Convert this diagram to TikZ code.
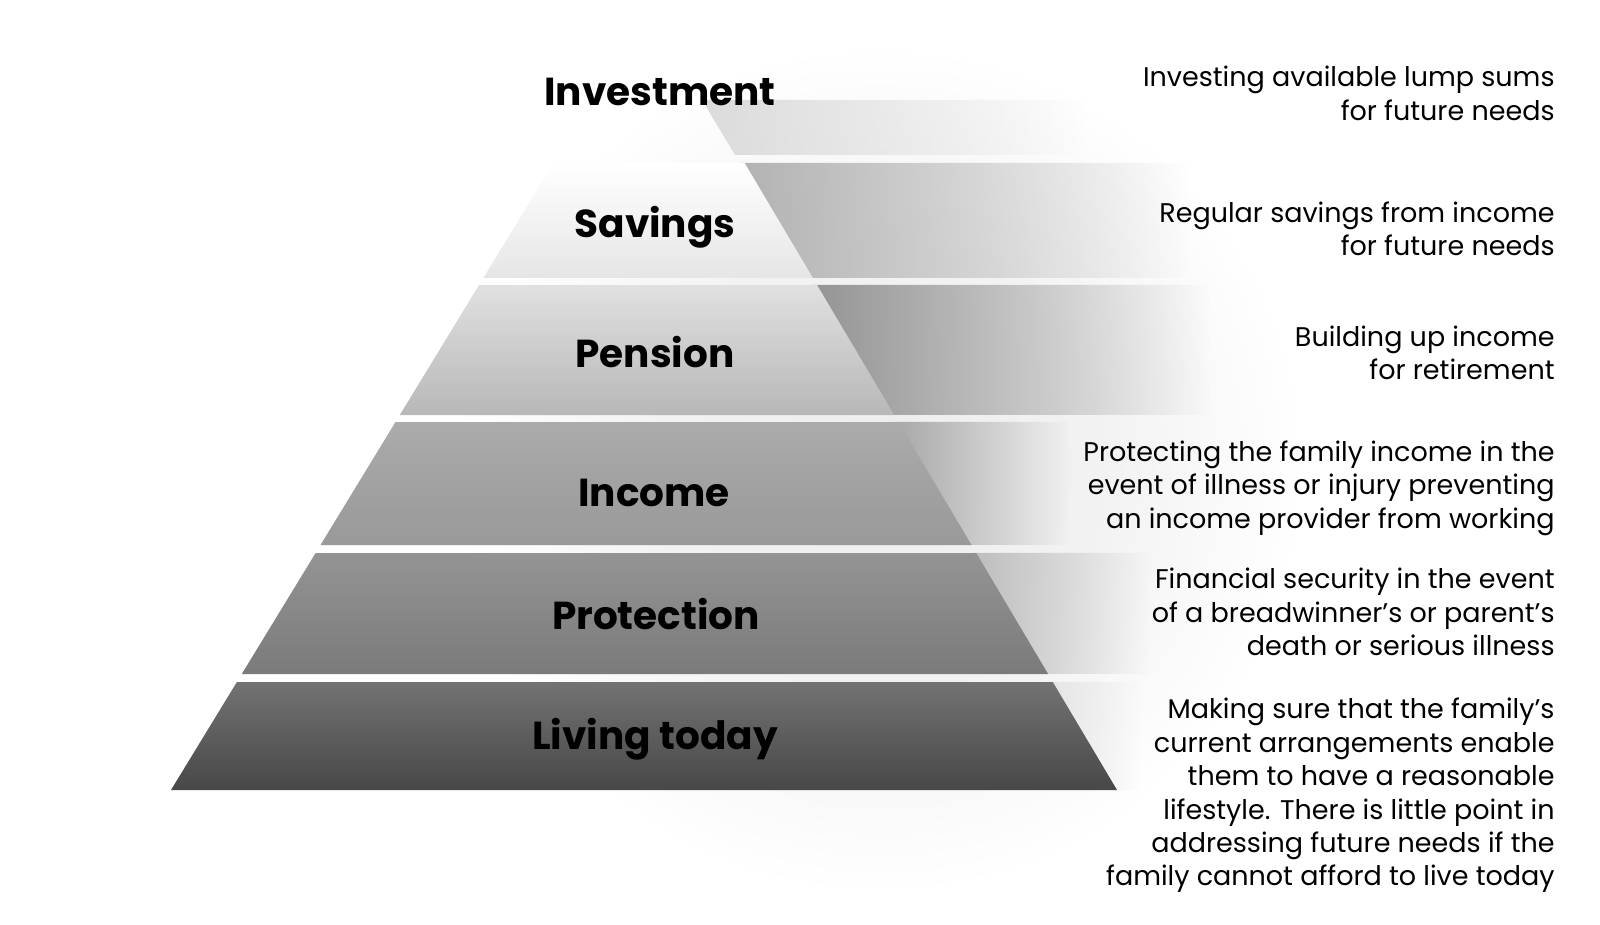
\documentclass[tikz,border=0pt]{standalone}
\usepackage{fontspec}
\setmainfont{Poppins}
\usetikzlibrary{fadings}
\pgfdeclareradialshading{halo}{\pgfpoint{0bp}{0bp}}{color(0bp)=(black!7); color(10bp)=(black!5); color(19bp)=(white); color(50bp)=(white)}
\tikzfading[name=fade right, left color=transparent!0, right color=transparent!100]
\tikzset{
  lbl/.style={font=\fontsize{19.5}{23}\selectfont\bfseries, anchor=base, inner sep=0pt},
  desc/.style={font=\fontsize{13.5}{16.7}\selectfont, align=right, anchor=east, inner sep=0pt},
  side/.style={fill=#1, path fading=fade right},
}
\begin{document}
\begin{tikzpicture}[x=0.5pt,y=-0.5pt]
\useasboundingbox[fill=white] (0,0) rectangle (1600,925);
% faint halo behind the pyramid
\shade[shading=halo] (880,470) circle (560);
% side extensions of the bands (right of the pyramid face)
\path[side=black!14] (702,100) -- (1085,100) -- (1085,155) -- (735,155) -- cycle;
\path[side=black!30] (740,163) -- (1190,163) -- (1190,278) -- (808,278) -- cycle;
\path[side=black!42] (812,285) -- (1210,285) -- (1210,415) -- (890,415) -- cycle;
\path[side=black!34] (894,422) -- (1070,422) -- (1070,545) -- (967,545) -- cycle;
\path[side=black!26] (972,553) -- (1150,553) -- (1150,674) -- (1044,674) -- cycle;
\path[side=black!10] (1048,682) -- (1140,682) -- (1140,790) -- (1113,790) -- cycle;
% pyramid face
\shade[top color=white, bottom color=black!10] (553.5,163) -- (744.6,163) -- (812.9,278) -- (483.3,278) -- cycle;
\shade[top color=black!12, bottom color=black!28] (479.1,285) -- (817,285) -- (894.2,415) -- (399.8,415) -- cycle;
\shade[top color=black!33, bottom color=black!40] (395.5,422) -- (898.4,422) -- (971.5,545) -- (320.5,545) -- cycle;
\shade[top color=black!42, bottom color=black!52] (315.6,553) -- (976.2,553) -- (1048.1,674) -- (241.8,674) -- cycle;
\shade[top color=black!55, bottom color=black!72] (236.9,682) -- (1052.8,682) -- (1117,790) -- (171,790) -- cycle;
% labels
\node[lbl] (inv) at (660,106) {Investment};
\node[lbl] (sav) at (655,238) {Savings};
\node[lbl] (pen) at (655,367) {Pension};
\node[lbl] (inc) at (654,506) {Income};
\node[lbl] (pro) at (656,629) {Protection};
\node[lbl] (liv) at (655,749) {Living today};
% descriptions
\node[desc] (dinv) at (1555,93.5) {Investing available lump sums\\for future needs};
\node[desc] (dsav) at (1555,229) {Regular savings from income\\for future needs};
\node[desc] (dpen) at (1555,353) {Building up income\\for retirement};
\node[desc] (dinc) at (1555,488) {Protecting the family income in the\\event of illness or injury preventing\\an income provider from working};
\node[desc] (dpro) at (1555,612) {Financial security in the event\\of a breadwinner's or parent's\\death or serious illness};
\node[desc] (dliv) at (1555,795.5) {Making sure that the family's\\current arrangements enable\\them to have a reasonable\\lifestyle. There is little point in\\addressing future needs if the\\family cannot afford to live today};
\end{tikzpicture}
\end{document}
